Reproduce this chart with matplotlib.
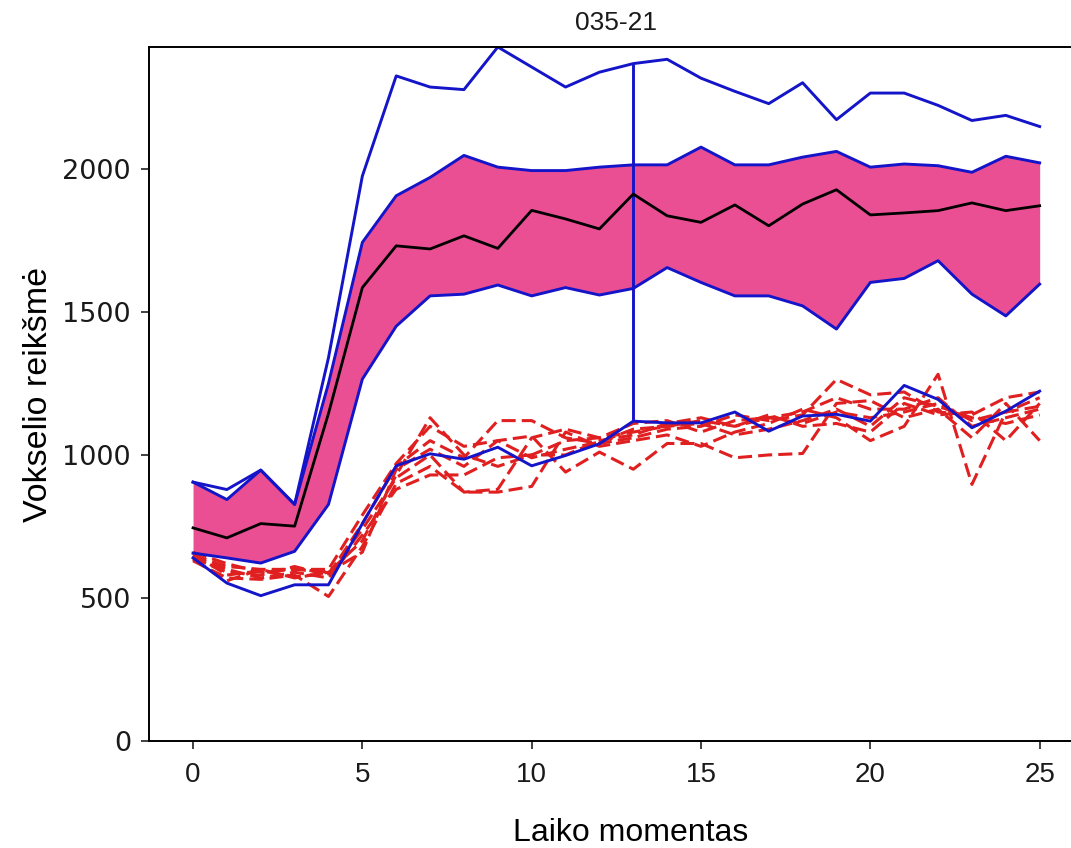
import matplotlib
matplotlib.use("Agg")
import matplotlib.pyplot as plt
import numpy as np

# ---- data ----
t = list(range(26))

upper_outer = [905, 879, 947, 827, 1340, 1975, 2325, 2286, 2277, 2426, 2356, 2286, 2338,
               2368, 2383, 2317, 2271, 2228, 2301, 2172, 2265, 2265, 2222, 2169, 2187, 2148]

band_upper = [905, 844, 947, 827, 1250, 1743, 1906, 1970, 2047, 2006, 1994, 1994, 2006,
              2014, 2014, 2076, 2014, 2014, 2041, 2061, 2006, 2017, 2011, 1988, 2044, 2021]

band_lower = [657, 640, 622, 663, 827, 1265, 1450, 1556, 1562, 1594, 1556, 1585, 1559,
              1582, 1655, 1603, 1556, 1556, 1521, 1440, 1603, 1617, 1679, 1562, 1486, 1597]

mean_line = [745, 710, 760, 751, 1145, 1585, 1731, 1720, 1766, 1722, 1855, 1825, 1790,
             1912, 1836, 1813, 1874, 1801, 1877, 1927, 1839, 1846, 1854, 1881, 1854, 1871]

lower_solid = [640, 552, 508, 546, 546, 760, 962, 1004, 985, 1027, 962, 998, 1039,
               1118, 1112, 1112, 1150, 1083, 1136, 1142, 1118, 1243, 1194, 1095, 1153, 1223]

red_series = [
    [650, 610, 600, 600, 590, 700, 930, 1130, 1000, 960, 1000, 1050, 1060, 1080, 1100, 1120, 1100, 1130, 1110, 1150, 1130, 1150, 1180, 1120, 1150, 1200],
    [640, 590, 580, 610, 580, 760, 960, 1050, 990, 1120, 1120, 1060, 1040, 1060, 1090, 1100, 1140, 1120, 1140, 1264, 1210, 1220, 1150, 1140, 1200, 1220],
    [630, 570, 565, 580, 505, 680, 900, 960, 870, 870, 890, 1080, 1030, 1050, 1070, 1030, 1080, 1110, 1160, 1130, 1050, 1100, 1282, 897, 1150, 1170],
    [660, 620, 590, 600, 600, 790, 970, 1100, 1030, 1050, 1066, 940, 1010, 950, 1040, 1040, 990, 1000, 1005, 1180, 1190, 1130, 1160, 1060, 1180, 1050],
    [645, 600, 570, 590, 570, 720, 880, 930, 930, 990, 1000, 1000, 1050, 1070, 1110, 1130, 1100, 1140, 1100, 1110, 1080, 1180, 1140, 1150, 1050, 1180],
    [655, 580, 595, 575, 585, 740, 920, 1000, 870, 880, 1060, 1090, 1060, 1110, 1120, 1080, 1120, 1130, 1150, 1200, 1160, 1160, 1200, 1100, 1130, 1160],
    [635, 560, 600, 570, 590, 660, 950, 1020, 960, 1050, 990, 1020, 1045, 1090, 1100, 1110, 1070, 1090, 1120, 1160, 1100, 1200, 1170, 1130, 1110, 1140],
]

marker_x = 13
title = "035-21"
xlabel = "Laiko momentas"
ylabel = "Vokselio reikšmė"

# ---- styling ----
BLUE = "#1414c8"
PINK = "#ea4f93"
RED = "#e02020"

plt.rcParams['lines.dashed_pattern'] = [4.6, 2.0]

fig = plt.figure(figsize=(10.71, 8.48), dpi=100)
ax = fig.add_axes([149 / 1071, 107 / 848, (1082 - 149) / 1071, (741 - 47) / 848])

ax.fill_between(t, band_lower, band_upper, color=PINK, linewidth=0)
for rs in red_series:
    ax.plot(t, rs, linestyle='--', color=RED, linewidth=2.2)
ax.plot(t, band_upper, color=BLUE, linewidth=2.1)
ax.plot(t, band_lower, color=BLUE, linewidth=2.1)
ax.plot(t, upper_outer, color=BLUE, linewidth=2.1)
ax.plot(t, lower_solid, color=BLUE, linewidth=2.1)
ax.vlines(marker_x, lower_solid[marker_x], upper_outer[marker_x], color=BLUE, linewidth=2.1)
ax.plot(t, mean_line, color="black", linewidth=2.0)

ax.set_xlim(-1.3, 26.25)
ax.set_ylim(0, max(upper_outer))
ax.set_xticks([0, 5, 10, 15, 20, 25])
ax.set_yticks([0, 500, 1000, 1500, 2000])

for s in ax.spines.values():
    s.set_linewidth(1.4)
ax.tick_params(axis='both', length=6, width=1.3, color='#333333')
for lab in ax.get_yticklabels():
    lab.set_fontfamily('DejaVu Sans')
    lab.set_fontsize(19.5)
    lab.set_color('#1a1a1a')
for lab in ax.get_xticklabels():
    lab.set_fontfamily('Liberation Sans')
    lab.set_fontsize(20)
    lab.set_color('#1a1a1a')
ax.tick_params(axis='y', pad=7)
ax.tick_params(axis='x', pad=9)

ax.set_title(title, fontsize=19, family='Liberation Sans', pad=12, color='#1a1a1a')
ax.set_xlabel(xlabel, fontsize=23, family='Liberation Sans', labelpad=22)
ax.xaxis.label.set_x(0.5 + 15 / 933)
ax.set_ylabel(ylabel, fontsize=24.5, family='Liberation Sans', labelpad=6)

fig.savefig("out.png", dpi=100)
